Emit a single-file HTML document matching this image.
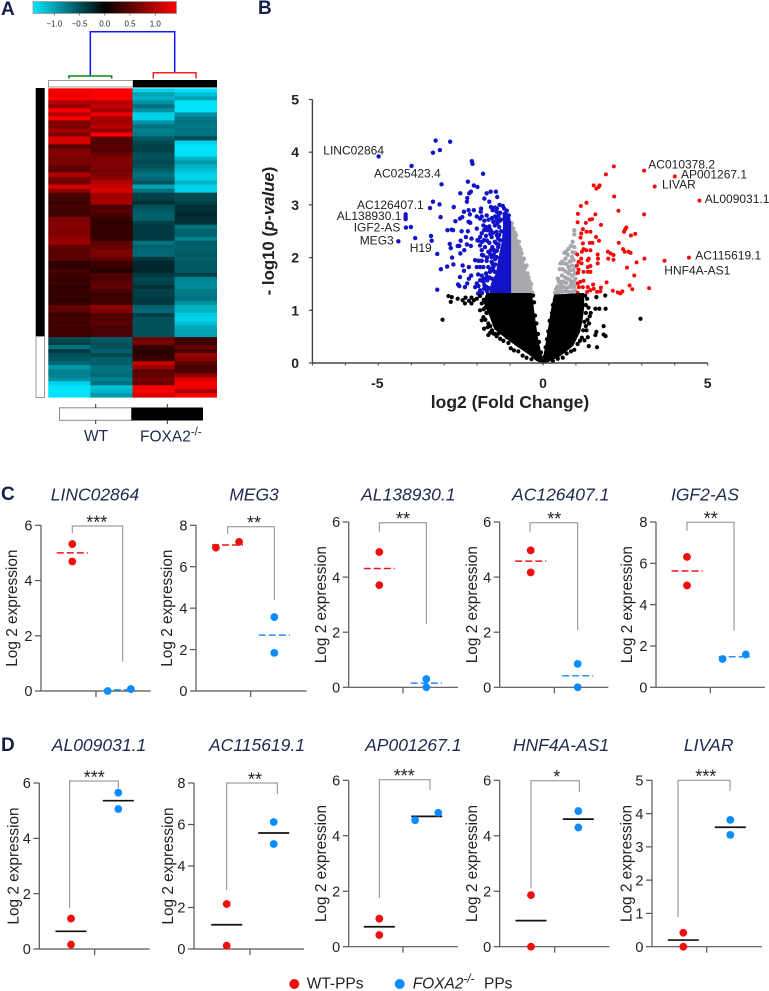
<!DOCTYPE html>
<html lang="en">
<head>
<meta charset="utf-8">
<title>FOXA2 knockout lncRNA figure</title>
<style>
html,body{margin:0;padding:0;background:#fff;width:769px;height:991px;overflow:hidden}
svg{display:block;font-family:"Liberation Sans",Arial,sans-serif;filter:blur(.3px)}
</style>
</head>
<body>
<svg id="fig" xmlns="http://www.w3.org/2000/svg" width="769" height="991" viewBox="0 0 769 991">
  <defs>
    <linearGradient id="cbar" x1="0" x2="1" y1="0" y2="0">
      <stop offset="0" stop-color="#00e6ff"/>
      <stop offset="0.5" stop-color="#000"/>
      <stop offset="1" stop-color="#ff0000"/>
    </linearGradient>
  </defs>
  <g fill="#14204a" font-weight="bold" font-size="19">
    <text x="1" y="15">A</text>
    <text x="258" y="14">B</text>
    <text x="1" y="500">C</text>
    <text x="1" y="751">D</text>
  </g>

  <g>
    <rect x="33" y="1.5" width="143.5" height="12" fill="url(#cbar)" stroke="#999" stroke-width="0.8"/>
    <g id="keyTicks"></g>
  </g>

  <g fill="none" stroke-width="1.5">
    <path d="M90.3 76V31.7H174.7V72.7" stroke="#1414ff"/>
    <path d="M69 78.5V76H111.7V78.5" stroke="#128012"/>
    <path d="M153.3 78.5V72.7H196V78.5" stroke="#ff2020"/>
  </g>

  <rect x="48.5" y="80.5" width="84.5" height="6.5" fill="#fff" stroke="#999" stroke-width="1"/>
  <rect x="133" y="80" width="84" height="7.5" fill="#000"/>
  <rect x="35.7" y="88" width="9" height="248.5" fill="#000"/>
  <rect x="36" y="336.5" width="8.5" height="61" fill="#fff" stroke="#999" stroke-width="1"/>
  <g id="heat"></g>

  <g>
    <rect x="59.5" y="407.8" width="72" height="12.5" fill="#fff" stroke="#888" stroke-width="1"/>
    <rect x="131.5" y="407.5" width="71.5" height="13" fill="#000"/>
    <path d="M95.7 404V408M95.7 420V424M167.3 404V408M167.3 420V424" stroke="#333" stroke-width="1"/>
    <text x="96" y="441" font-size="15.5" fill="#1f2a4d" text-anchor="middle">WT</text>
    <text x="140" y="441.5" font-size="15.5" fill="#1f2a4d">FOXA2<tspan dy="-6" font-size="11.5">-/-</tspan></text>
  </g>

  <g id="volcano"></g>
  <g id="panels"></g>

  <g>
    <circle cx="294.3" cy="984" r="5" fill="#f00f0f"/>
    <text x="306.7" y="988.7" font-size="15.5" fill="#222">WT-PPs</text>
    <circle cx="399.7" cy="984" r="5" fill="#0a8cff"/>
    <text x="412.7" y="988.7" font-size="15.5" fill="#222"><tspan font-style="italic">FOXA2</tspan><tspan dy="-6" font-size="11.5" font-style="italic">-/-</tspan><tspan dy="6" x="484">PPs</tspan></text>
  </g>
</svg>

<script>
const NS = 'http://www.w3.org/2000/svg';

/* ---------- colour key ---------- */
const keyTickValues = [-1.0, -0.5, 0.0, 0.5, 1.0];
const keyTickLabels = ['\u22121.0', '\u22120.5', '0.0', '0.5', '1.0'];

/* ---------- heatmap: WT1, WT2, KO1, KO2 per row ---------- */
const heatmapRows = [
[1.4,1.4,-1.3,-1.4],[1.3,1.4,-1.0,-1.2],[1.4,1.4,-1.1,-1.0],[1.0,1.0,-0.9,-1.4],[0.8,1.1,-0.7,-1.4],[1.4,0.9,-0.9,-1.4],[1.0,1.3,-1.3,-0.9],
[1.4,0.9,-1.3,-0.75],[0.7,0.9,-0.9,-0.7],[0.7,1.0,-0.7,-0.75],[0.9,0.8,-0.8,-0.7],[0.7,1.4,-0.75,-0.7],[1.2,0.5,-0.55,-0.45],[1.2,0.45,-0.45,-1.3],
[0.45,0.5,-0.4,-1.4],[0.7,0.45,-0.4,-1.4],[0.75,0.6,-0.5,-1.4],[0.65,0.7,-0.5,-1.1],[0.7,0.7,-0.45,-0.95],[0.55,0.7,-0.5,-1.1],[0.5,0.65,-0.6,-1.2],
[1.0,0.7,-0.7,-1.3],[0.7,0.8,-0.65,-1.3],[0.6,1.0,-0.5,-1.1],[1.2,1.1,-1.0,-1.3],[0.8,1.2,-0.7,-1.3],[0.4,0.9,-0.4,-0.45],[0.35,0.9,-0.4,-0.45],
[0.3,0.9,-0.3,-0.4],[0.4,0.4,-0.5,-0.3],[0.35,0.5,-0.55,-0.3],[0.35,0.4,-0.6,-0.25],[0.7,0.3,-0.6,-0.3],[0.7,0.25,-0.4,-0.3],[0.75,0.3,-0.35,-0.7],
[0.7,0.3,-0.35,-0.6],[0.7,0.25,-0.35,-0.6],[0.8,0.3,-0.35,-0.8],[0.85,0.5,-0.7,-0.55],[0.55,0.55,-0.6,-0.6],[0.5,0.7,-0.65,-0.6],[0.5,0.7,-0.65,-0.55],
[0.5,0.55,-0.35,-0.6],[0.25,0.35,-0.25,-0.55],[0.25,0.3,-0.25,-0.55],[0.4,0.2,-0.25,-0.55],[0.35,0.45,-0.35,-0.4],[0.3,0.4,-0.45,-0.8],[0.35,0.5,-0.4,-0.85],
[0.25,0.55,-0.3,-0.85],[0.3,0.4,-0.4,-0.75],[0.3,0.3,-0.4,-0.75],[0.25,0.35,-0.35,-0.7],[0.3,0.35,-0.35,-0.9],[0.55,0.8,-0.6,-1.1],[0.5,0.7,-0.65,-1.1],
[0.3,0.45,-0.4,-1.25],[0.4,0.45,-0.5,-1.3],[0.35,0.5,-0.5,-1.2],[0.35,0.4,-0.5,-1.05],[0.35,0.4,-0.5,-1.0],[0.35,0.4,-0.5,-1.0],[-0.45,-0.55,0.6,0.35],
[-0.4,-0.5,0.65,0.35],[-0.7,-0.5,0.3,0.55],[-0.35,-0.6,0.25,0.4],[-0.5,-0.45,0.25,0.85],[-0.55,-0.6,0.3,0.75],[-0.65,-0.6,1.1,0.5],[-0.95,-0.7,0.9,0.4],
[-0.8,-0.7,0.5,0.45],[-0.8,-0.65,0.55,0.8],[-0.9,-0.8,0.65,1.2],[-1.3,-0.7,0.6,1.4],[-1.4,-1.2,1.4,1.3],[-1.4,-1.1,1.4,0.95],[-1.4,-0.95,1.2,1.4]
];

/* ---------- volcano data: [log2FC, -log10 p] ---------- */
const volcanoXTicks = [-5, 0, 5];
const volcanoYTicks = [0, 1, 2, 3, 4, 5];
const volcanoMinorX = [-7,-6,-5,-4,-3,-2,-1,0,1,2,3,4,5];
const downGenes = [
[-4.99,3.92],[-3.99,3.74],[-3.26,4.22],[-2.82,4.20],[-3.13,4.04],[-3.34,3.99],[-2.16,3.83],[-2.14,3.78],[-1.82,3.59],[-3.08,3.39],[-2.28,3.44],[-2.10,3.37],[-1.99,3.34],
[-2.19,3.25],[-2.24,3.22],[-2.51,3.22],[-2.30,3.13],[-2.31,3.06],[-3.34,3.06],[-3.14,3.01],[-3.43,2.94],[-2.71,2.96],[-4.17,2.82],[-4.17,2.77],[-4.17,2.73],[-3.11,2.77],
[-4.16,2.57],[-4.01,2.58],[-3.88,2.37],[-4.39,2.31],[-3.40,2.41],[-3.38,2.32],[-3.21,2.07],[-3.21,1.39],[-3.10,1.78],[-2.91,1.83],[-2.72,1.87],[-2.76,2.0],[-2.80,2.18],[-2.83,2.26],
[-2.90,2.52],[-2.77,2.53],[-2.73,2.52],[-2.66,2.69],[-2.52,2.74],[-2.45,2.77],[-2.40,2.87],[-2.26,2.90],[-2.22,2.82],[-2.10,2.90],[-1.88,2.93],[-1.89,2.87],[-2.01,2.78],
[-2.26,2.68],[-2.21,2.66],[-1.91,2.74],[-1.86,2.78],[-2.47,2.50],[-2.59,2.22],[-2.54,2.22],[-2.51,2.08],[-2.39,2.14],[-2.50,2.32],[-2.34,2.39],[-2.17,2.36],[-2.28,2.50],[-2.01,2.55],
[-2.31,2.25],[-2.19,2.22],[-1.99,2.33],[-2.44,1.85],[-2.40,1.75],[-2.25,1.82],[-2.52,1.63],[-2.58,1.49],[-2.54,1.46],[-2.37,1.44],[-2.30,1.51],[-2.25,1.60],[-2.18,1.66],
[-1.71,3.22],[-1.59,3.25],[-1.43,3.25],[-1.39,3.15],[-1.63,3.06],[-1.58,2.96],[-1.46,2.95],[-1.53,2.90],[-1.41,2.87],[-1.78,3.12],[-1.71,2.8],[-1.46,2.78],[-1.36,2.78],[-1.41,2.71],[-1.31,2.70],
[-1.51,2.68],[-1.46,2.61],[-1.81,2.61],[-1.73,2.58],[-1.63,2.59],[-1.79,2.52],[-1.69,2.52],[-1.59,2.52],[-1.86,2.46],[-1.91,2.39],[-1.73,2.41],[-1.56,2.39],[-1.41,2.49],[-1.36,2.36],
[-1.96,2.32],[-1.79,2.33],[-1.63,2.28],[-1.46,2.3],[-1.91,2.23],[-1.76,2.2],[-1.54,2.2],[-1.36,2.2],[-1.86,2.14],[-1.66,2.11],[-1.46,2.11],[-1.81,2.04],[-1.56,2.01],[-1.41,2.01],
[-2.06,1.95],[-1.96,1.94],[-1.86,1.94],[-1.71,1.94],[-1.56,1.92],[-2.01,1.82],[-1.91,1.82],[-1.81,1.82],[-1.66,1.82],[-1.51,1.82],[-1.86,1.66],[-1.73,1.7],[-1.61,1.73],[-1.46,1.73],
[-1.91,1.57],[-2.01,1.51],[-2.06,1.44],[-1.96,1.46],[-1.81,1.54],[-1.69,1.57],[-1.91,1.38],[-1.97,1.32],[-1.79,1.41],[-1.71,1.44],[-1.18,2.93],[-1.10,2.89],[-1.14,2.84],[-1.04,2.80],
[-1.3,2.85],[-1.35,2.8],[-1.28,2.72],[-1.38,2.65],[-1.33,2.58],[-1.27,2.5],[-1.4,2.42],[-1.33,2.43],[-1.3,2.33],[-1.42,2.27],[-1.35,2.25],[-1.5,2.15],[-1.4,2.13],[-1.5,2.05],[-1.6,2.06],
[-1.45,1.97],[-1.53,1.88],[-1.45,1.87],[-1.6,1.78],[-1.52,1.76],[-1.7,1.64],[-1.62,1.62],[-1.55,1.6],[-1.78,1.48],[-1.7,1.36],[-1.64,1.42],[-1.85,1.33],[-1.8,1.6],[-1.97,1.68],[-1.6,2.45],
[-1.52,2.47],[-1.7,2.32],[-1.58,2.14],[-1.7,2.0],[-1.85,2.3],[-1.55,2.75],[-1.65,2.72],[-1.4,2.93],[-1.32,3.0],[-1.22,2.98],[-1.78,2.7],[-1.85,2.05]
];
const downCoreOutline = [[-1,1.32],[-1.6,1.32],[-1.55,1.5],[-1.4,1.7],[-1.32,2.0],[-1.22,2.3],[-1.18,2.6],[-1.2,2.84],[-1.05,2.8],[-1,2.68]];
const upGenes = [
[2.15,3.73],[3.07,3.65],[4.0,3.54],[3.39,3.35],[4.75,3.08],[1.91,3.58],[1.54,3.37],[1.72,3.37],[1.69,3.34],[1.62,3.31],[2.16,3.16],[1.32,3.04],[1.15,2.98],[2.29,2.89],[3.07,2.82],
[1.06,2.83],[1.59,2.82],[1.49,2.73],[1.42,2.72],[1.30,2.66],[1.05,2.67],[1.76,2.62],[2.53,2.57],[2.49,2.53],[2.46,2.49],[2.80,2.45],[2.67,2.42],[1.21,2.54],[1.32,2.49],[1.44,2.49],
[1.16,2.46],[1.14,2.38],[1.61,2.39],[1.70,2.32],[2.30,2.28],[1.21,2.27],[1.42,2.28],[1.50,2.28],[1.23,2.16],[1.31,2.14],[1.18,2.11],[1.44,2.14],[1.39,1.98],[1.36,1.95],
[2.43,2.16],[2.48,2.11],[2.60,2.11],[2.66,2.09],[1.97,2.11],[2.05,2.08],[2.14,2.05],[1.98,1.98],[2.14,1.96],[1.66,2.06],[1.67,1.98],[1.66,1.89],[3.08,1.98],[3.69,1.94],[4.43,2.0],
[2.84,1.91],[2.55,1.81],[2.77,1.66],[1.04,2.06],[1.16,1.98],[1.08,1.92],[1.03,1.85],[1.17,1.89],[1.36,1.82],[1.44,1.84],[1.08,1.77],[1.06,1.71],[1.23,1.73],[1.36,1.73],[1.44,1.73],
[1.93,1.53],[2.63,1.47],[2.71,1.40],[3.22,1.42],[2.12,1.37],[2.27,1.34],[2.35,1.32],[2.41,1.36],[1.05,1.51],[1.13,1.54],[1.23,1.56],[1.09,1.44],[1.21,1.44],[1.36,1.44],[1.52,1.49],
[1.54,1.41],[1.44,1.38],[1.64,1.35],[1.74,1.36],[1.76,1.43],[1.34,1.35],[1.05,1.33]
];
const grayGenes = [
[0.95,2.52],[0.95,2.44],[0.85,2.22],[0.78,2.17],[0.71,2.12],[0.65,2.09],[0.98,2.09],[0.58,1.92],[0.53,1.89],[0.63,1.89],[0.88,2.01],[0.93,1.95],[0.51,1.78],[0.88,1.85],[0.78,1.82],
[0.98,1.82],[0.45,1.6],[0.48,1.54],[0.78,1.7],[0.88,1.66],[0.98,1.7],[0.83,1.57],[0.93,1.54],[0.98,1.6],[0.40,1.4],[0.53,1.41],[0.63,1.44],[0.78,1.44],[0.88,1.44],[0.37,1.33],[0.47,1.34],
[0.58,1.35],[0.68,1.36],[0.78,1.35],[0.88,1.35],[0.98,1.38],
[0.9,2.3],[0.95,2.2],[0.9,2.1],[0.75,2.05],[0.68,1.98],[0.82,1.93],[0.72,1.88],[0.6,1.78],[0.68,1.74],[0.58,1.66],[0.68,1.62],[0.75,1.6],[0.55,1.54],[0.62,1.54],[0.7,1.52],[0.82,1.76],[0.92,1.76],
[0.44,1.45],[0.55,1.48],[0.7,1.42],[0.95,1.46],[0.85,1.5],
[-0.95,2.65],[-0.9,2.55],[-0.85,2.47],[-0.78,2.3],[-0.72,2.2],[-0.65,2.08],[-0.6,1.95],[-0.55,1.8],[-0.47,1.7],[-0.42,1.55],[-0.38,1.42],[-0.33,1.34],
[-0.97,2.6],[-0.82,2.42],[-0.73,2.3],[-0.68,2.15],[-0.58,1.98],[-0.5,1.85],[-0.44,1.62],[-0.36,1.5]
];
const grayCoreOutline = [[-1,1.32],[-0.38,1.32],[-0.49,1.6],[-0.64,2.0],[-0.77,2.3],[-0.94,2.55],[-1,2.6]];
const nsGenes = [
[-3.05,0.82],[-2.87,1.27],[-2.77,1.25],[-2.80,1.16],[-2.59,1.22],[-2.44,1.19],[-2.35,1.24],[-2.17,1.24],[-2.37,1.13],[-2.17,1.13],[-2.01,1.22],[-1.91,1.27],[-1.86,1.13],[-1.91,1.0],[-1.81,0.87],
[-1.86,0.81],[-1.66,0.75],[-1.79,0.65],[-1.66,0.53],[-1.51,0.56],[-1.41,0.51],[-1.1,0.49],[-2.25,1.18],[-2.1,1.19],[-1.75,1.05],[-1.7,0.95],
[1.62,1.25],[1.89,1.28],[1.59,1.03],[1.71,1.03],[1.90,1.03],[1.42,0.89],[2.96,0.84],[1.84,0.70],[1.62,0.59],[1.59,0.53],[1.84,0.54],[1.90,0.51],[1.64,0.30],[1.39,0.32],[1.36,0.49],[1.26,0.43],
[1.45,0.95],[1.4,0.75],[1.32,0.62],
[-1.7,1.25],[-1.75,1.15],[-1.8,1.2],[-1.68,1.08],[-1.8,1.02],[-1.72,0.95],[-1.75,0.82],[-1.68,0.68],[-1.6,0.7],[-1.55,0.62],[-1.6,0.58],[-1.45,0.55],[-1.35,0.56],[-1.3,0.46],[-1.2,0.42],[-1.05,0.38],
[-0.98,0.28],[-0.88,0.24],[-0.75,0.22],[-0.62,0.14],[-0.5,0.1],[-0.35,0.07],[-0.3,1.28],[-0.27,1.15],[-0.24,0.9],[-0.2,0.75],[-0.15,0.55],[-0.12,0.4],[-0.06,0.2],
[1.28,1.28],[1.34,1.22],[1.3,1.1],[1.38,1.05],[1.3,0.95],[1.35,0.82],[1.26,0.78],[1.3,0.7],[1.22,0.62],[1.18,0.48],[1.12,0.42],[1.05,0.36],[0.95,0.25],[0.85,0.22],[0.72,0.18],[0.6,0.1],[0.45,0.08],[0.3,0.04],
[0.36,1.2],[0.3,1.1],[0.27,0.95],[0.2,0.8],[0.16,0.6],[0.12,0.45],[0.08,0.3],[0.04,0.12]
];
const nsLeftOutline = [[-1.7,1.31],[-0.36,1.31],[-0.3,1.0],[-0.19,0.5],[-0.07,0.15],[0,0],[-0.2,0.06],[-0.4,0.17],[-0.8,0.34],[-1.15,0.5],[-1.45,0.65],[-1.6,0.9],[-1.75,1.1]];
const nsRightOutline = [[0.36,1.28],[1.22,1.31],[1.22,1.05],[1.17,0.8],[1.1,0.6],[0.9,0.34],[0.5,0.14],[0.2,0.05],[0,0],[0.09,0.3],[0.17,0.6],[0.27,1.0]];
const geneLabels = ['LINC02864','AC025423.4','AC126407.1','AL138930.1','IGF2-AS','MEG3','H19','AC010378.2','AP001267.1','LIVAR','AL009031.1','AC115619.1','HNF4A-AS1'];
const geneLabelLeft = [323.3,374,357,336.7,353.7,359.7,409.7,648.3,681,662,704.7,695.3,664.3];
const geneLabelBase = [154.3,177.3,209,220,231.7,244.3,252,168.3,178.3,188.7,203,259.7,274.3];

/* ---------- small expression panels ---------- */
const panelTitles = ['LINC02864','MEG3','AL138930.1','AC126407.1','IGF2-AS','AL009031.1','AC115619.1','AP001267.1','HNF4A-AS1','LIVAR'];
const panelStars = ['***','**','**','**','**','***','**','***','*','***'];
const panelTicks = [[0,2,4,6],[0,2,4,6,8],[0,2,4,6],[0,2,4,6],[0,2,4,6,8],[0,2,4,6],[0,2,4,6,8],[0,2,4,6],[0,2,4,6],[0,1,2,3,4,5]];
const wtValues = [[5.32,4.69],[6.92,7.2],[4.91,3.71],[4.97,4.17],[6.31,4.93],[1.1,0.16],[2.17,0.16],[1.01,0.42],[1.86,0],[0.42,0]];
const koValues = [[0,0.07],[3.57,1.84],[0.3,0],[0.85,0],[1.37,1.59],[5.65,5.06],[6.12,5.06],[4.56,4.83],[4.89,4.3],[3.81,3.36]];
const wtMeans = [5.0,7.05,4.31,4.58,5.63,0.64,1.17,0.72,0.94,0.2];
const koMeans = [0.04,2.7,0.15,0.42,1.48,5.36,5.59,4.7,4.6,3.59];

/* layout of each small panel in page pixels (not data) */
const panelFrames = [
{ax:41,top:525.3,zero:691,end:150.7,tick:96,rx:72.3,bx:119.3,bL:72.3,bR:122.7,bT:526,bLE:533.3,bRE:661.7,sx:96.7,tx:95,ty:500.7,yt:24},
{ax:196,top:525.3,zero:691,end:306.7,tick:250.7,rx:227.5,bx:274.3,bL:227.7,bR:274.3,bT:526.7,bLE:534,bRE:600,sx:254,tx:254,ty:500.7,yt:24},
{ax:348.7,top:522,zero:687.3,end:458,tick:403,rx:379.3,bx:426.3,bL:379.3,bR:426.3,bT:522.7,bLE:531.7,bRE:624.3,sx:403,tx:408.3,ty:500.7,yt:22.7},
{ax:499.7,top:522,zero:687.3,end:608.3,tick:554.3,rx:530.7,bx:577.7,bL:530,bR:577.7,bT:522.7,bLE:531.7,bRE:630,sx:554.3,tx:560.7,ty:500.7,yt:22.7},
{ax:656,top:522,zero:687.3,end:765,tick:710.3,rx:687,bx:734.2,bL:687,bR:734,bT:522.3,bLE:530.7,bRE:630.7,sx:710.7,tx:705,ty:500.7,yt:24},
{ax:39.3,top:783,zero:949,end:149.7,tick:94.7,rx:71,bx:118.3,bL:69.7,bR:118.3,bT:781,bLE:908.3,bRE:788.3,sx:94.3,tx:99,ty:751,yt:21},
{ax:194,top:783,zero:949,end:304,tick:250,rx:226.7,bx:273.7,bL:226.7,bR:277.3,bT:783,bLE:890,bRE:794,sx:255,tx:257,ty:751,yt:21},
{ax:348.7,top:780.3,zero:946.7,end:458,tick:403,rx:379.3,bx:426.7,bL:379.3,bR:430,bT:779.7,bLE:897.7,bRE:790,sx:404.3,tx:413.3,ty:751,yt:22.7},
{ax:499.7,top:780.3,zero:946.7,end:609.3,tick:554.7,rx:531,bx:578.3,bL:531,bR:579.3,bT:780.7,bLE:887.7,bRE:791.7,sx:556.7,tx:561,ty:751,yt:22.7},
{ax:652,top:780.3,zero:946.7,end:762,tick:706.7,rx:683.3,bx:730.3,bL:678,bR:730,bT:780.3,bLE:917.3,bRE:791,sx:705.7,tx:708.7,ty:751,yt:20.3}
];

function el(tag, attrs, parent, txt) {
  const n = document.createElementNS(NS, tag);
  for (const k in attrs) n.setAttribute(k, attrs[k]);
  if (txt !== undefined) n.textContent = txt;
  parent.appendChild(n);
  return n;
}

/* colour key ticks */
const keyG = document.getElementById('keyTicks');
const keyX = v => 104.75 + v * 50.5;
keyTickValues.forEach((v, i) => {
  const t = el('line', {x1: keyX(v), x2: keyX(v), y1: 13.5, y2: 15.5, stroke: '#444', 'stroke-width': 0.7}, keyG);
  
  
  const l = el('text', {x: keyX(v), y: 26.5, 'font-size': 8, fill: '#223', 'text-anchor': 'middle'}, keyG, keyTickLabels[i]);
  
  
});

/* heatmap */
const heat = document.getElementById('heat');
const heatLeft = 48.3, heatTop = 88.3, heatW = 168.4, heatH = 309;
function heatColor(v) {
  const a = Math.min(1, Math.abs(v) / 1.42);
  return v >= 0 ? `rgb(${Math.round(255 * a)},0,0)` : `rgb(0,${Math.round(230 * a)},${Math.round(255 * a)})`;
}
heatmapRows.forEach((row, r) => {
  row.forEach((v, c) => {
    const cell = el('rect', {
      x: heatLeft + c * heatW / 4, y: heatTop + r * heatH / heatmapRows.length,
      width: heatW / 4 + 0.3, height: heatH / heatmapRows.length + 0.3, fill: heatColor(v)
    }, heat);
    
    
  });
});

/* volcano */
const vol = document.getElementById('volcano');
const vx = v => 543 + v * 32.94;
const vy = v => 363 - v * 52.7;
function pathOf(outline) {
  return 'M' + outline.map(p => vx(p[0]).toFixed(1) + ' ' + vy(p[1]).toFixed(1)).join('L') + 'Z';
}
const grayHull = el('path', {d: pathOf(grayCoreOutline), fill: '#a7a7ad', stroke: '#a7a7ad', 'stroke-width': 2, 'stroke-linejoin': 'round'}, vol);


grayGenes.forEach(p => {
  const d = el('circle', {cx: vx(p[0]), cy: vy(p[1]), r: 2.2, fill: '#a7a7ad'}, vol);
  
  
});
const blueHull = el('path', {d: pathOf(downCoreOutline), fill: '#1212c8', stroke: '#1212c8', 'stroke-width': 2, 'stroke-linejoin': 'round'}, vol);


downGenes.forEach(p => {
  const d = el('circle', {cx: vx(p[0]), cy: vy(p[1]), r: 2.2, fill: '#1212c8'}, vol);
  
  
});
upGenes.forEach(p => {
  const d = el('circle', {cx: vx(p[0]), cy: vy(p[1]), r: 2, fill: '#f50a0a'}, vol);
  
  
});
[nsLeftOutline, nsRightOutline].forEach(o => {
  const h = el('path', {d: pathOf(o), fill: '#000', stroke: '#000', 'stroke-width': 2, 'stroke-linejoin': 'round'}, vol);
  
  
});
nsGenes.forEach(p => {
  const d = el('circle', {cx: vx(p[0]), cy: vy(p[1]), r: 2.1, fill: '#000'}, vol);
  
  
});
const vAxY = el('line', {x1: vx(-7), x2: vx(-7), y1: vy(5), y2: vy(0), stroke: '#444', 'stroke-width': 1.4}, vol);


const vAxX = el('line', {x1: vx(-7), x2: vx(5), y1: vy(0), y2: vy(0), stroke: '#444', 'stroke-width': 1.4}, vol);


volcanoMinorX.forEach(v => {
  const t = el('line', {x1: vx(v), x2: vx(v), y1: vy(0), y2: vy(0) + 2.5, stroke: '#444', 'stroke-width': 1}, vol);
  
  
});
volcanoXTicks.forEach(v => {
  const l = el('text', {x: vx(v) - (v < 0 ? 1 : 0), y: 388, 'font-size': 14, 'font-weight': 'bold', fill: '#222', 'text-anchor': 'middle'}, vol, String(v));
  
  
});
volcanoYTicks.forEach(v => {
  const t = el('line', {x1: vx(-7) - 3.5, x2: vx(-7), y1: vy(v), y2: vy(v), stroke: '#444', 'stroke-width': 1.2}, vol);
  
  
  const l = el('text', {x: 299, y: vy(v) + 5, 'font-size': 14, 'font-weight': 'bold', fill: '#222', 'text-anchor': 'end'}, vol, String(v));
  
  
});
const xTitle = el('text', {x: 510, y: 408, 'font-size': 17.5, 'font-weight': 'bold', fill: '#222', 'text-anchor': 'middle'}, vol, 'log2 (Fold Change)');


const yTitle = el('text', {transform: 'translate(274,231) rotate(-90)', 'font-size': 16.8, 'font-weight': 'bold', fill: '#222', 'text-anchor': 'middle'}, vol);


el('tspan', {}, yTitle, '- log10 (');
el('tspan', {'font-style': 'italic'}, yTitle, 'p-value');
el('tspan', {}, yTitle, ')');
geneLabels.forEach((g, i) => {
  const l = el('text', {x: geneLabelLeft[i], y: geneLabelBase[i], 'font-size': 12, fill: '#222'}, vol, g);
  
  
});

/* small panels */
const panels = document.getElementById('panels');
const minSpacing = 7.5, sideOffset = 11.6;
panelTitles.forEach((title, i) => {
  const f = panelFrames[i];
  const ticks = panelTicks[i];
  const ymax = ticks[ticks.length - 1];
  const py = v => f.zero - v * (f.zero - f.top) / ymax;
  const g = el('g', {}, panels);
  
  
  const isC = i < 5;

  const tt = el('text', {x: f.tx, y: f.ty, 'font-size': 17.5, 'font-style': 'italic', fill: '#1f2a4d', 'text-anchor': 'middle'}, g, title);
  
  

  const axisColor = '#555';
  const ya = el('line', {x1: f.ax, x2: f.ax, y1: py(ymax), y2: f.zero, stroke: axisColor, 'stroke-width': 1.2}, g);
  
  
  const xa = el('line', {x1: f.ax, x2: f.end, y1: f.zero, y2: f.zero, stroke: axisColor, 'stroke-width': 1.2}, g);
  
  
  const xt = el('line', {x1: f.tick, x2: f.tick, y1: f.zero, y2: f.zero + 6, stroke: axisColor, 'stroke-width': 1.2}, g);
  
  
  ticks.forEach(v => {
    const t = el('line', {x1: f.ax - 6, x2: f.ax, y1: py(v), y2: py(v), stroke: axisColor, 'stroke-width': 1.2}, g);
    
    
    const l = el('text', {x: f.ax - 8.5, y: py(v) + 5.2, 'font-size': 14.5, fill: '#222', 'text-anchor': 'end'}, g, String(v));
    
    
  });
  const yl = el('text', {transform: `translate(${f.ax - f.yt},${(f.zero + f.top) / 2}) rotate(-90)`, 'font-size': 15.4, fill: '#222', 'text-anchor': 'middle'}, g, 'Log 2 expression');
  
  

  const br = el('path', {d: `M${f.bL} ${f.bLE}V${f.bT}H${f.bR}V${f.bRE}`, fill: 'none', stroke: '#8a8a8a', 'stroke-width': 1}, g);
  
  
  const st = el('text', {x: f.sx, y: f.bT + 2.4, 'font-size': 18, fill: '#222', 'text-anchor': 'middle'}, g, panelStars[i]);
  
  

  [[wtMeans[i], f.rx, '#f0141e'], [koMeans[i], f.bx, '#2a8ff5']].forEach(m => {
    const line = el('line', {x1: m[1] - 15.5, x2: m[1] + 15.5, y1: py(m[0]), y2: py(m[0]),
      stroke: isC ? m[2] : '#111', 'stroke-width': isC ? 1.5 : 1.7}, g);
    if (isC) line.setAttribute('stroke-dasharray', '7 3');
    
    
  });

  [[wtValues[i], f.rx, '#f00f0f'], [koValues[i], f.bx, '#0a8cff']].forEach(grp => {
    const vals = grp[0];
    const tight = Math.abs(py(vals[0]) - py(vals[1])) < minSpacing;
    vals.forEach((v, k) => {
      const cx = grp[1] + (tight ? (k === 0 ? -sideOffset : sideOffset) : 0);
      const d = el('circle', {cx: cx, cy: py(v), r: 3.9, fill: grp[2]}, g);
      
      
    });
  });
});
</script>
</body>
</html>
